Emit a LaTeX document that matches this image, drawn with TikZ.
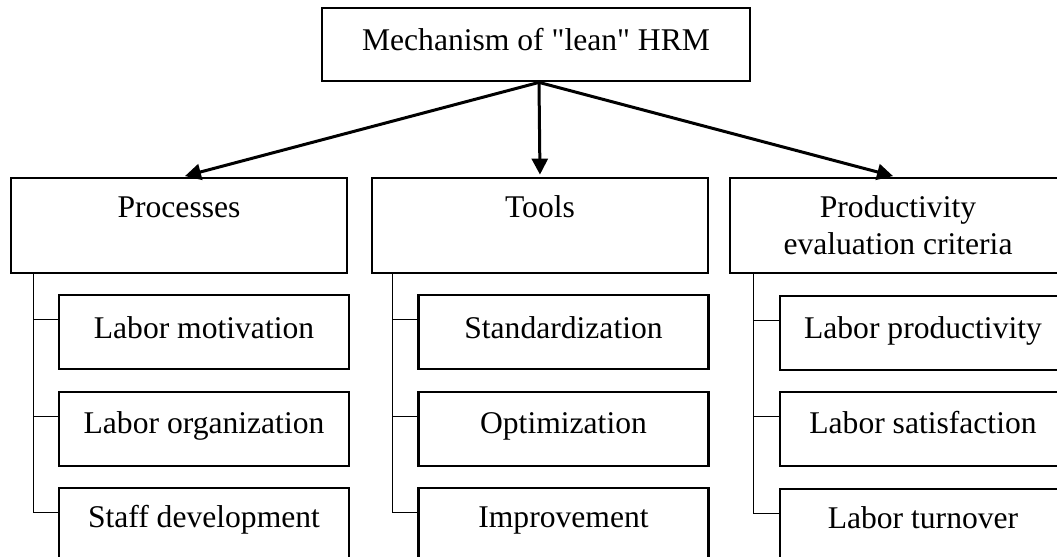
\documentclass[tikz,border=0pt]{standalone}
\usepackage{fontspec}
\setmainfont{Liberation Serif}[Ligatures=TeXOff]
\usetikzlibrary{arrows.meta,calc}
\tikzset{
  box/.style={draw=black, line width=1.4pt, fill=white, inner sep=0pt},
  topbox/.style={box, minimum width=214pt, minimum height=36.5pt},
  groupbox/.style={box, minimum width=168pt, minimum height=47.5pt},
  itembox/.style={box, minimum width=145pt, minimum height=37pt},
  txt/.style={inner sep=0pt, anchor=base, font=\fontsize{15.8}{18.5}\selectfont, align=center},
  link/.style={line width=1.5pt, -{Triangle[length=8pt,width=8pt]}, shorten >=1pt},
  branch/.style={line width=0.6pt},
}
\begin{document}
\begin{tikzpicture}[x=0.5pt,y=-0.5pt]
\useasboundingbox (0,0) rectangle (1057,557);
\clip (0,0) rectangle (1057,557);

% root
\node[topbox] (root) at (536,44.5) {};
\node[txt] (root-t) at (536,50) {Mechanism of "lean" HRM};

% groups
\node[groupbox] (pr) at (179,225.5) {};
\node[groupbox] (tl) at (540,225.5) {};
\node[groupbox] (pe) at (898,225.5) {};
\node[txt] (pr-t) at (179,217) {Processes};
\node[txt] (tl-t) at (540,217) {Tools};
\node[txt] (pe-t) at (898,254) {Productivity\\evaluation criteria};

% items
\node[itembox] (lm) at (204,332) {};
\node[itembox] (lo) at (204,429) {};
\node[itembox] (sd) at (204,525) {};
\node[itembox] (st) at (563.5,332) {};
\node[itembox] (op) at (563.5,429) {};
\node[itembox] (im) at (563.5,525) {};
\node[itembox] (lp) at (925,333) {};
\node[itembox] (ls) at (925,429) {};
\node[itembox] (lt) at (925,526) {};

\node[txt] (lm-t) at (204,338) {Labor motivation};
\node[txt] (lo-t) at (204,433) {Labor organization};
\node[txt] (sd-t) at (204,527) {Staff development};
\node[txt] (st-t) at (563.5,338) {Standardization};
\node[txt] (op-t) at (563.5,433) {Optimization};
\node[txt] (im-t) at (563.5,527) {Improvement};
\node[txt] (lp-t) at (923,338) {Labor productivity};
\node[txt] (ls-t) at (923,433) {Labor satisfaction};
\node[txt] (lt-t) at (923,528) {Labor turnover};

% arrows from the root
\draw[link] ([xshift=1.5pt]root.south) -- ([xshift=2pt]pr.north);
\draw[link] ([xshift=1.5pt]root.south) -- (tl.north);
\draw[link] ([xshift=1.5pt]root.south) -- ([xshift=-1.5pt]pe.north);

% tree branches
\foreach \c in {lm,lo,sd}
  \draw[branch] ([yshift=-13pt]\c.north west) -| ([xshift=12pt]pr.south west);
\foreach \c in {st,op,im}
  \draw[branch] ([yshift=-13pt]\c.north west) -| ([xshift=11pt]tl.south west);
\foreach \c in {lp,ls,lt}
  \draw[branch] ([yshift=-13pt]\c.north west) -| ([xshift=12.5pt]pe.south west);
\end{tikzpicture}
\end{document}
